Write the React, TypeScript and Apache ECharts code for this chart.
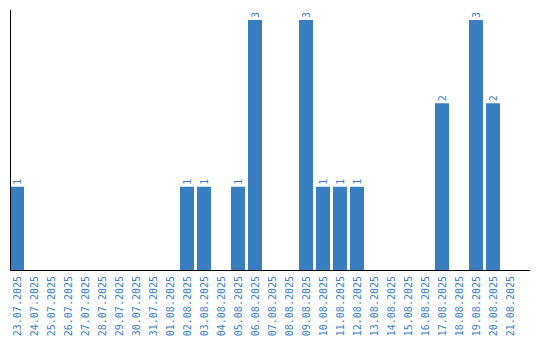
import React, { useEffect, useRef } from "react";
import * as echarts from "echarts";

const categories: string[] = [
  "23.07.2025", "24.07.2025", "25.07.2025", "26.07.2025", "27.07.2025",
  "28.07.2025", "29.07.2025", "30.07.2025", "31.07.2025", "01.08.2025",
  "02.08.2025", "03.08.2025", "04.08.2025", "05.08.2025", "06.08.2025",
  "07.08.2025", "08.08.2025", "09.08.2025", "10.08.2025", "11.08.2025",
  "12.08.2025", "13.08.2025", "14.08.2025", "15.08.2025", "16.08.2025",
  "17.08.2025", "18.08.2025", "19.08.2025", "20.08.2025", "21.08.2025",
];

const counts: number[] = [
  1, 0, 0, 0, 0,
  0, 0, 0, 0, 0,
  1, 1, 0, 1, 3,
  0, 0, 3, 1, 1,
  1, 0, 0, 0, 0,
  2, 0, 3, 2, 0,
];

const BLUE = "#3a7ec2";
const FONT = "DejaVu Sans Mono";

export default function App() {
  const ref = useRef<HTMLDivElement>(null);
  useEffect(() => {
    document.body.style.margin = "0";
    if (!ref.current) return;
    const chart = echarts.init(ref.current, undefined, { renderer: "svg" });
    chart.setOption({
      animation: false,
      grid: { left: 8.5, top: 10, width: 510, height: 260 },
      xAxis: {
        type: "category",
        data: categories,
        axisLine: { show: false },
        axisTick: { show: false },
        axisLabel: {
          interval: 0,
          rotate: 90,
          margin: 6,
          color: BLUE,
          fontFamily: FONT,
          fontSize: 10,
        },
      },
      yAxis: {
        type: "value",
        min: 0,
        max: 3.12,
        axisLine: { show: false },
        axisTick: { show: false },
        axisLabel: { show: false },
        splitLine: { show: false },
      },
      graphic: [
        {
          type: "line",
          shape: { x1: 10.5, y1: 10, x2: 10.5, y2: 270 },
          style: { stroke: "#000", lineWidth: 1 },
          z: 10,
        },
        {
          type: "line",
          shape: { x1: 10, y1: 270.5, x2: 530, y2: 270.5 },
          style: { stroke: "#000", lineWidth: 1 },
          z: 10,
        },
      ],
      series: [
        {
          type: "bar",
          data: counts,
          barWidth: 14,
          itemStyle: { color: BLUE },
          label: {
            show: true,
            position: "top",
            distance: 2,
            rotate: 90,
            align: "left",
            verticalAlign: "middle",
            color: BLUE,
            fontFamily: FONT,
            fontSize: 10,
            formatter: (p: any) => (p.value ? String(p.value) : ""),
          },
        },
      ],
    });
    return () => chart.dispose();
  }, []);
  return <div ref={ref} style={{ width: 540, height: 340 }} />;
}
